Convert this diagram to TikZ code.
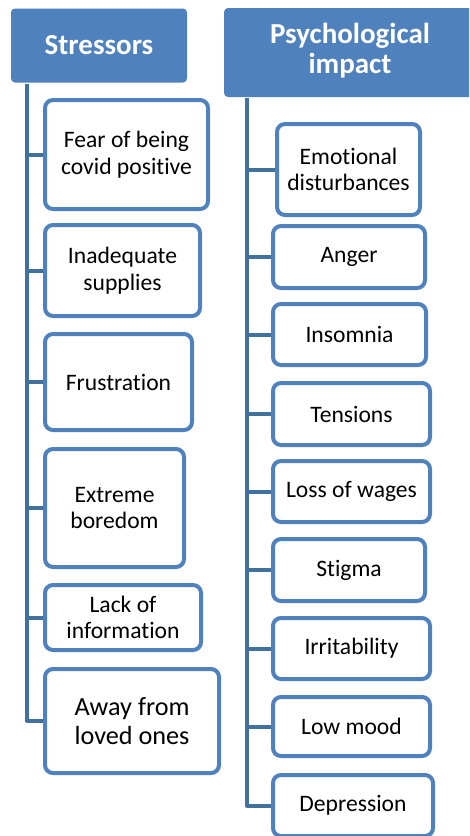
\documentclass[tikz,border=0pt]{standalone}
\usepackage{fontspec}
\setmainfont[Ligatures={NoCommon}]{Carlito}
\usetikzlibrary{backgrounds}
\definecolor{boxblue}{HTML}{4F81BD}
\definecolor{linkblue}{HTML}{41719C}
\begin{document}
\begin{tikzpicture}[x=1pt,y=-1pt,
  header/.style={fill=boxblue, draw=none, rounded corners=4pt, inner sep=0pt,
    text=white, align=center, font=\fontsize{29}{31}\selectfont\bfseries},
  item/.style={draw=boxblue, line width=4pt, fill=white, rounded corners=8pt,
    inner sep=0pt, align=center, text=black, font=\fontsize{23.6}{26.5}\selectfont},
  conn/.style={draw=linkblue, line width=4pt}]
\useasboundingbox (0,0) rectangle (469,836);
\clip (0,0) rectangle (469,836);

% headers
\node[header, minimum width=176pt, minimum height=74pt] (hs) at (99,45.5) {Stressors};
\node[header, minimum width=252pt, minimum height=89pt] (hp) at (350,52.5) {\raisebox{-2pt}{\begin{tabular}{@{}c@{}}Psychological\\[-1pt]impact\end{tabular}}};

% connector anchors
\coordinate (ltop) at (27,84);
\coordinate (rtop) at (247,98);

% stressor boxes
\node[item, minimum width=163pt, minimum height=109pt] (s1) at (126.5,154.5) {Fear of being\\covid positive};
\node[item, minimum width=155pt, minimum height=91pt] (s2) at (122.5,270.5) {Inadequate\\supplies};
\node[item, minimum width=147pt, minimum height=96pt] (s3) at (118.5,382) {Frustration};
\node[item, minimum width=139pt, minimum height=118pt] (s4) at (114.5,508) {Extreme\\boredom};
\node[item, minimum width=156pt, minimum height=65pt] (s5) at (123,617.5) {Lack of\\information};
\node[item, minimum width=174pt, minimum height=104pt, font=\fontsize{26.2}{29}\selectfont] (s6) at (132,721) {Away from\\loved ones};

% impact boxes
\node[item, minimum width=143pt, minimum height=91pt] (p1) at (348.5,169.5) {Emotional\\disturbances};
\node[item, minimum width=152pt, minimum height=62pt] (p2) at (349,257) {Anger};
\node[item, minimum width=153pt, minimum height=61pt] (p3) at (349.5,334.5) {Insomnia};
\node[item, minimum width=157pt, minimum height=62pt] (p4) at (351.5,414) {Tensions};
\node[item, minimum width=157pt, minimum height=61pt] (p5) at (351.5,491.5) {Loss of wages};
\node[item, minimum width=152pt, minimum height=62pt] (p6) at (349,570) {Stigma};
\node[item, minimum width=157pt, minimum height=61pt] (p7) at (351.5,648.5) {Irritability};
\node[item, minimum width=157pt, minimum height=59pt] (p8) at (351.5,726.5) {Low mood};
\node[item, minimum width=160pt, minimum height=61pt] (p9) at (353,805.5) {Depression};

% connectors
\begin{scope}[on background layer]
\fill[white] (0,0) rectangle (469,836);
\draw[conn, line join=round] (ltop) |- (s6.west);
\foreach \n in {s1,s2,s3,s4,s5} \draw[conn] (ltop |- \n.west) -- (\n.west);
\draw[conn, line join=round] (rtop) |- (p9.west);
\foreach \n in {p1,p2,p3,p4,p5,p6,p7,p8} \draw[conn] (rtop |- \n.west) -- (\n.west);
\end{scope}
\end{tikzpicture}
\end{document}
